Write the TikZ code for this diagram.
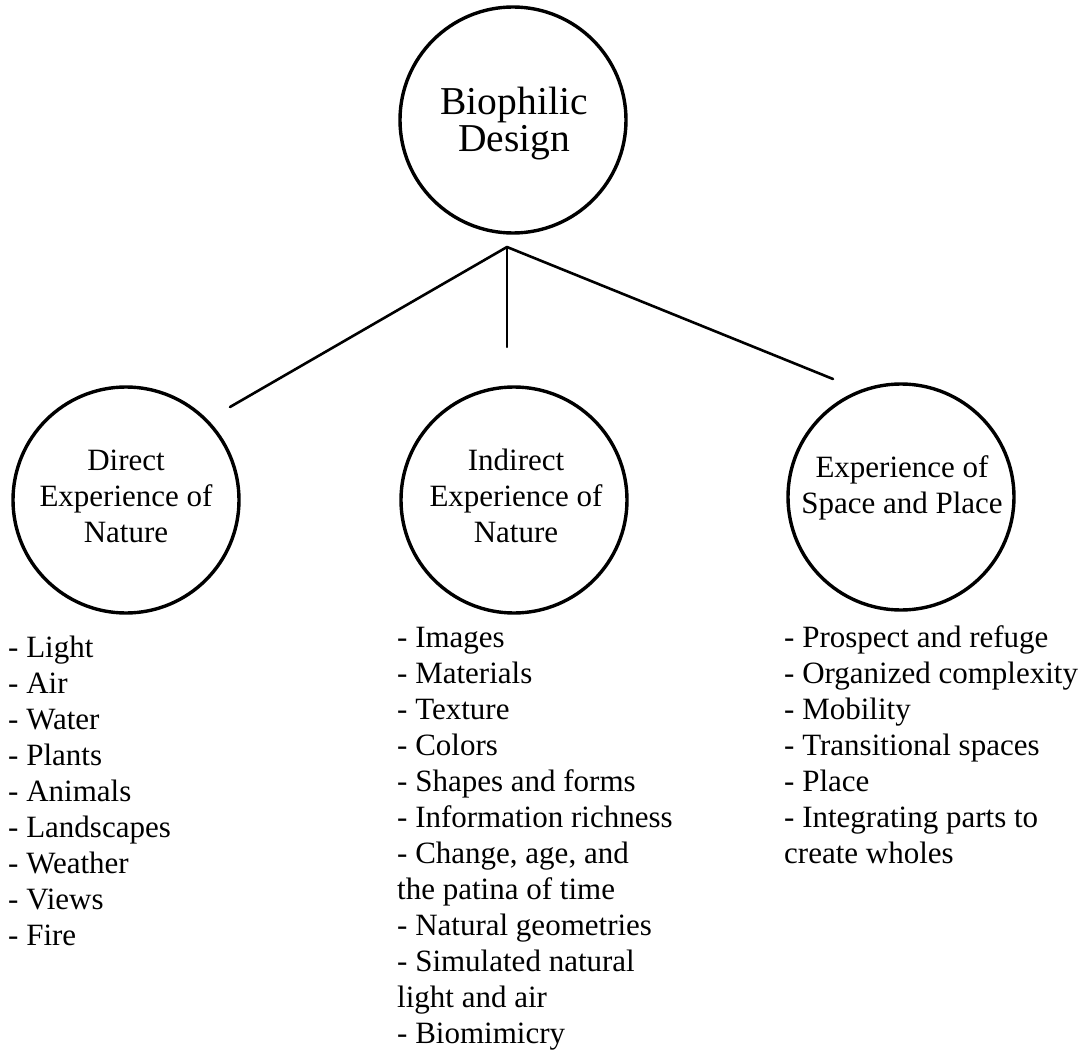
\documentclass[tikz,border=0pt]{standalone}
\usepackage{fontspec}
\setmainfont{Liberation Serif}
\begin{document}
\begin{tikzpicture}[x=1pt,y=-1pt,
  hub/.style={circle, draw, line width=3.4pt, minimum size=226pt, inner sep=0pt},
  caption/.style={align=center, inner sep=0pt, anchor=base, font=\fontsize{31}{36}\selectfont},
  itemlist/.style={align=left, inner sep=0pt, anchor=base west, font=\fontsize{31}{36}\selectfont},
  link/.style={line width=2.6pt, line cap=round}]
\useasboundingbox (0,0) rectangle (1090,1051);

% circles
\node[hub] (root)     at (513,120) {};
\node[hub] (direct)   at (126,500) {};
\node[hub] (indirect) at (514,500) {};
\node[hub] (space)    at (901,497) {};

% circle captions (anchored on the baseline of their last line)
\node[caption, font=\fontsize{39.5}{37}\selectfont] (root-text) at (514,152) {Biophilic\\Design};
\node[caption] (direct-text)   at (126,542) {Direct\\Experience of\\Nature};
\node[caption] (indirect-text) at (516,542) {Indirect\\Experience of\\Nature};
\node[caption] (space-text)    at (902,513) {Experience of\\Space and Place};

% branching connectors
\coordinate (fork)   at (507,247);
\coordinate (d-end)  at (230,407);
\coordinate (i-end)  at (507,347);
\coordinate (s-end)  at (833,379);
\draw[link] (fork) -- (d-end);
\draw[link] (fork) -- (s-end);
\draw[link, line width=2.2pt] (fork) -- (i-end);

% lists of attributes (anchored on the baseline of their last line)
\node[itemlist] (direct-list) at (8,945) {- Light\\- Air\\- Water\\- Plants\\- Animals\\- Landscapes\\- Weather\\- Views\\- Fire};
\node[itemlist] (indirect-list) at (397,1043) {- Images\\- Materials\\- Texture\\- Colors\\- Shapes and forms\\- Information richness\\- Change, age, and\\the patina of time\\- Natural geometries\\- Simulated natural\\light and air\\- Biomimicry};
\node[itemlist] (space-list) at (784,863) {- Prospect and refuge\\- Organized complexity\\- Mobility\\- Transitional spaces\\- Place\\- Integrating parts to\\create wholes};
\end{tikzpicture}
\end{document}
